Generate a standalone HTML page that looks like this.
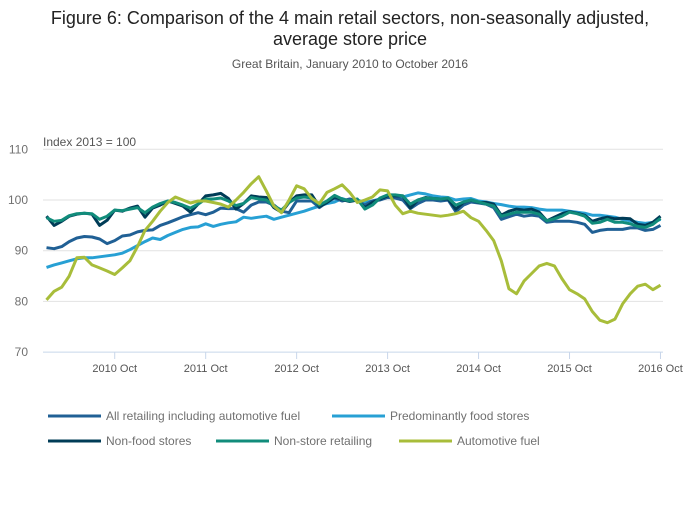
<!DOCTYPE html>
<html><head><meta charset="utf-8"><style>
body{margin:0;background:#fff;font-family:"Liberation Sans",sans-serif;}
svg text{font-family:"Liberation Sans",sans-serif;}
</style></head><body>
<svg id="chart" width="700" height="502" viewBox="0 0 700 502">
<text x="350" y="24" text-anchor="middle" font-size="18" fill="#222">Figure 6: Comparison of the 4 main retail sectors, non-seasonally adjusted,</text>
<text x="350" y="45" text-anchor="middle" font-size="18" fill="#222">average store price</text>
<text x="350" y="68" text-anchor="middle" font-size="12" fill="#555">Great Britain, January 2010 to October 2016</text>
<text x="43" y="146" font-size="12" fill="#555">Index 2013 = 100</text>
<g id="grid"></g><g id="series"></g>
<g font-size="12" fill="#707070">
<line x1="48" y1="416" x2="101" y2="416" stroke="#206095" stroke-width="3"/>
<text x="106" y="420">All retailing including automotive fuel</text>
<line x1="332" y1="416" x2="385" y2="416" stroke="#27a0d4" stroke-width="3"/>
<text x="390" y="420">Predominantly food stores</text>
<line x1="48" y1="441" x2="101" y2="441" stroke="#003c57" stroke-width="3"/>
<text x="106" y="445">Non-food stores</text>
<line x1="216" y1="441" x2="269" y2="441" stroke="#118c7b" stroke-width="3"/>
<text x="274" y="445">Non-store retailing</text>
<line x1="399" y1="441" x2="452" y2="441" stroke="#a8bd3a" stroke-width="3"/>
<text x="457" y="445">Automotive fuel</text>
</g>
</svg>
<script>
const yTicks=[70,80,90,100,110];
const xTickLabels=["2010 Oct","2011 Oct","2012 Oct","2013 Oct","2014 Oct","2015 Oct","2016 Oct"];
const xTickMonths=[9,21,33,45,57,69,81];
const allRetailing=[90.6,90.4,90.8,91.8,92.5,92.8,92.7,92.3,91.4,92,92.9,93.1,93.7,94.0,94.1,95.0,95.5,96.1,96.7,97.1,97.5,97.1,97.6,98.4,98.3,98.3,97.6,99.0,99.6,99.6,99.0,97.8,97.5,99.8,99.8,99.8,98.5,99.6,100.4,99.8,100.2,99.8,99,99.8,100,100.5,100.4,100,98.3,99.3,100,100,99.8,100,97.7,99,99.6,99.4,99.2,98.5,96.2,96.7,97.2,96.8,97,96.8,95.6,95.8,95.8,95.8,95.6,95.2,93.6,94,94.2,94.2,94.2,94.5,94.5,94,94.2,95];
const foodStores=[86.7,87.2,87.6,88,88.4,88.6,88.6,88.8,89,89.2,89.5,90.2,91,91.8,92.5,92.2,93,93.6,94.2,94.6,94.7,95.3,94.8,95.2,95.5,95.7,96.6,96.4,96.6,96.8,96.2,96.6,97,97.4,97.8,98.3,98.8,99.3,99.6,100.3,99.8,100,99.5,99.8,100.2,100.8,100.8,100.6,101,101.4,101.2,100.8,100.6,100.5,100,100.2,100.3,99.8,99.6,99.3,99.1,98.8,98.6,98.6,98.5,98.2,98,98,98,97.8,97.6,97.4,97,97,96.8,96.6,96.2,95.9,95.6,95.4,95.6,96.2];
const nonFood=[96.8,95,95.8,96.8,97.2,97.4,97.2,95,96,98,97.8,98.4,98.8,96.6,98.4,99,99.8,99.3,98.8,97.6,99.2,100.8,101,101.3,100.3,98.2,99.3,100.8,100.6,100.5,98.5,97.6,99.5,100.8,101,101,98.7,99.5,100.6,100.1,99.7,100,98.5,99.5,100.2,100.8,100.8,100.8,98.4,100,100.5,100.3,100.2,100.2,98.2,99.5,100,99.5,99.5,99.2,97,97.8,98.2,98,98.2,97.6,95.9,96.6,97.3,97.7,97.4,97,95.8,96.3,96.6,96.3,96.4,96.3,95.2,95,95.6,96.8];
const nonStore=[96.5,95.8,96,96.9,97.3,97.4,97.3,96.2,96.8,98.0,97.9,98.2,98.5,97.5,98.6,99.3,99.8,99.5,99,98.4,99.2,100.2,100.2,100.4,99.8,98.9,99.3,100.5,100.2,100.0,98.8,98,99.5,100.4,100.6,100.4,99,99.8,100.9,100.2,99.8,100.2,98.2,99,100.4,101,101,100.8,99.2,100,100.4,100.3,100.2,100.4,99,99.6,100,99.6,99.2,98.8,96.8,97.2,97.6,97.6,97.6,97.2,95.9,96.3,96.8,97.6,97.3,96.8,95.4,95.6,96.2,95.6,95.6,95.3,94.8,94.6,95.2,96.4];
const fuel=[80.3,82,82.8,85,88.6,88.7,87.2,86.6,86,85.3,86.6,88,90.8,94,95.8,97.8,99.5,100.6,100,99.4,99.8,99.8,99.5,99.2,98.6,100,101.5,103.2,104.6,101.8,98.8,97.5,100,102.8,102.2,100.3,99.3,101.5,102.2,103,101.5,99.5,100,100.6,102,101.8,99,97.3,97.8,97.4,97.2,97,96.8,97,97.3,97.8,96.5,95.8,94,92,88,82.5,81.5,84,85.5,87,87.5,87,84.5,82.3,81.5,80.5,78,76.3,75.8,76.5,79.5,81.5,83,83.4,82.3,83.2];
const NS="http://www.w3.org/2000/svg";
const xScale=m=>46.5+m*7.58;
const yScale=v=>149.3+(110-v)*5.07;
const grid=document.getElementById('grid');
yTicks.forEach(v=>{
  const l=document.createElementNS(NS,'line');
  l.setAttribute('x1',43);l.setAttribute('x2',663);
  l.setAttribute('y1',yScale(v));l.setAttribute('y2',yScale(v));
  l.setAttribute('stroke',v===70?'#c8d6ea':'#e2e2e2');l.setAttribute('stroke-width',1);
  
  
  grid.appendChild(l);
  const t=document.createElementNS(NS,'text');
  t.setAttribute('x',28);t.setAttribute('y',yScale(v)+4);
  t.setAttribute('text-anchor','end');
  t.setAttribute('font-size','12');t.setAttribute('fill','#707070');
  t.textContent=v;
  
  
  grid.appendChild(t);
});
xTickMonths.forEach((m,i)=>{
  const x=xScale(m);
  const l=document.createElementNS(NS,'line');
  l.setAttribute('x1',x);l.setAttribute('x2',x);
  l.setAttribute('y1',352);l.setAttribute('y2',359);
  l.setAttribute('stroke','#c8d6ea');
  
  
  grid.appendChild(l);
  const t=document.createElementNS(NS,'text');
  t.setAttribute('x',x);t.setAttribute('y',372);t.setAttribute('text-anchor','middle');
  t.setAttribute('font-size','11');t.setAttribute('fill','#555');
  t.textContent=xTickLabels[i];
  
  
  grid.appendChild(t);
});
const seriesG=document.getElementById('series');
function drawLine(vals,color,name){
  const p=document.createElementNS(NS,'polyline');
  p.setAttribute('points',vals.map((v,i)=>xScale(i).toFixed(1)+','+yScale(v).toFixed(1)).join(' '));
  p.setAttribute('fill','none');p.setAttribute('stroke',color);p.setAttribute('stroke-width',3);
  p.setAttribute('stroke-linejoin','round');
  
  
  seriesG.appendChild(p);
}
drawLine(foodStores,'#27a0d4','line-food-stores');
drawLine(allRetailing,'#206095','line-all-retailing');
drawLine(nonFood,'#003c57','line-non-food');
drawLine(nonStore,'#118c7b','line-non-store');
drawLine(fuel,'#a8bd3a','line-automotive-fuel');
</script>
</body></html>
